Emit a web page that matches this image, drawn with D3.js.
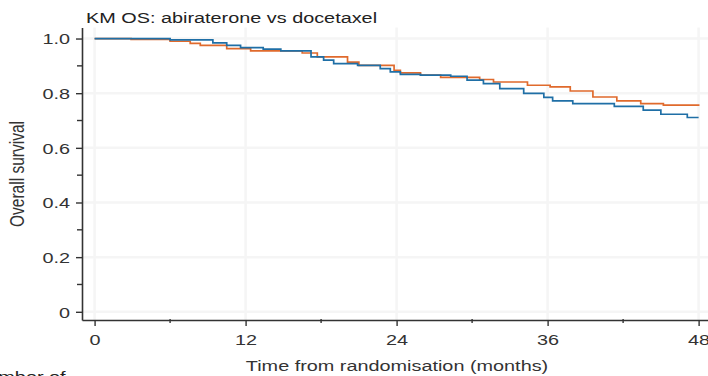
<!DOCTYPE html>
<html>
<head>
<meta charset="utf-8">
<script src="https://cdn.jsdelivr.net/npm/d3@7"></script>
<style>
  html, body { margin: 0; padding: 0; background: #fff; overflow: hidden; }
  svg { display: block; }
  text { font-family: "Liberation Sans", Arial, Helvetica, sans-serif; }
</style>
</head>
<body>
<svg id="chart" width="708" height="376"></svg>
<script>
// Kaplan–Meier overall survival estimates (time in months, survival proportion)
const abiTimes = [0, 2.9, 6.0, 7.6, 8.4, 10.5, 12.4, 16.5, 17.7, 20.1, 21.0, 23.8, 24.3, 25.9, 27.5, 30.6, 31.7, 34.4, 36.2, 37.8, 39.6, 41.5, 43.4, 45.2, 48];
const abiSurv  = [1.0, 0.997, 0.990, 0.982, 0.975, 0.963, 0.955, 0.947, 0.933, 0.914, 0.902, 0.884, 0.874, 0.866, 0.858, 0.850, 0.841, 0.829, 0.823, 0.808, 0.786, 0.772, 0.762, 0.756, 0.753];

const docTimes = [0, 6.0, 9.4, 10.5, 11.6, 13.4, 14.8, 17.2, 18.2, 19.0, 20.9, 22.7, 23.5, 24.3, 25.9, 28.3, 29.6, 30.9, 32.2, 34.1, 35.7, 36.4, 38.0, 41.3, 43.6, 45.0, 47.1, 48];
const docSurv  = [1.0, 0.995, 0.984, 0.975, 0.967, 0.961, 0.955, 0.933, 0.921, 0.908, 0.902, 0.890, 0.878, 0.869, 0.866, 0.862, 0.848, 0.835, 0.817, 0.799, 0.785, 0.772, 0.762, 0.752, 0.738, 0.723, 0.711, 0.711];

const xTicks = [0, 12, 24, 36, 48];
const xMinorTicks = [6, 18, 30, 42];
const yTicks = [0, 0.2, 0.4, 0.6, 0.8, 1.0];
const yMinorTicks = [0.1, 0.3, 0.5, 0.7, 0.9];

const titleText = "KM OS: abiraterone vs docetaxel";
const xLabel = "Time from randomisation (months)";
const yLabel = "Overall survival";
const riskLabel = "Number of";

// Text in this figure is set wide; glyphs are stretched horizontally.
const SX = 1.28;
const FS = 15.5;

const svg = d3.select("#chart");

const x = d3.scaleLinear().domain([-1, 49]).range([82, 711.2]);
const y = d3.scaleLinear().domain([-0.03, 1.04]).range([320, 27.6]);

// Faint grid
const grid = svg.append("g");
grid.selectAll("line.gx").data(xTicks).join("line")
  .attr("x1", d => x(d)).attr("x2", d => x(d))
  .attr("y1", y(1.04)).attr("y2", y(-0.03))
  .attr("stroke", "#f5f5f5").attr("stroke-width", 2.5);
grid.selectAll("line.gy").data(yTicks).join("line")
  .attr("x1", x(-1)).attr("x2", 708)
  .attr("y1", d => y(d)).attr("y2", d => y(d))
  .attr("stroke", "#f5f5f5").attr("stroke-width", 2.5);

// Survival curves
const line = d3.line().x(d => x(d[0])).y(d => y(d[1])).curve(d3.curveStepAfter);
const abiData = abiTimes.map((t, i) => [t, abiSurv[i]]);
const docData = docTimes.map((t, i) => [t, docSurv[i]]);

svg.append("path").datum(abiData)
  .attr("d", line).attr("fill", "none")
  .attr("stroke", "#e06a2c").attr("stroke-width", 1.7);
svg.append("path").datum(docData)
  .attr("d", line).attr("fill", "none")
  .attr("stroke", "#1f6fa6").attr("stroke-width", 1.7);

// X axis
const xAxis = svg.append("g").attr("transform", "translate(0,320)")
  .call(d3.axisBottom(x).tickValues(xTicks).tickFormat(d3.format("d")).tickSize(6).tickSizeOuter(0));
xAxis.append("g").selectAll("line").data(xMinorTicks).join("line")
  .attr("x1", d => x(d)).attr("x2", d => x(d)).attr("y1", -1).attr("y2", 3)
  .attr("stroke", "#333").attr("stroke-width", 1.4);

// Y axis
const yAxis = svg.append("g").attr("transform", "translate(82,0)")
  .call(d3.axisLeft(y).tickValues(yTicks)
    .tickFormat(d => d === 0 ? "0" : d3.format(".1f")(d)).tickSize(6).tickSizeOuter(0));
yAxis.append("g").selectAll("line").data(yMinorTicks).join("line")
  .attr("x1", -5).attr("x2", 0).attr("y1", d => y(d)).attr("y2", d => y(d))
  .attr("stroke", "#333").attr("stroke-width", 1.4);

[xAxis, yAxis].forEach(a => {
  a.select(".domain").attr("stroke", "#333").attr("stroke-width", 1.6);
  a.selectAll(".tick line").attr("stroke", "#333").attr("stroke-width", 1.4);
  a.selectAll(".tick text").attr("fill", "#333").attr("font-size", FS)
    .attr("font-family", "Liberation Sans, Arial, sans-serif");
});
xAxis.selectAll(".tick text").attr("y", 25).attr("dy", 0).attr("x", 0)
  .attr("transform", `scale(${SX},1)`);
yAxis.selectAll(".tick text").attr("x", -12 / SX).attr("dy", "0.34em")
  .attr("transform", `scale(${SX},1)`);

// Title and axis labels
function stretchedText(tx, ty, str, opts = {}) {
  const t = svg.append("text")
    .attr("transform", `translate(${tx},${ty}) scale(${SX},1)` + (opts.rotate ? ` rotate(${opts.rotate})` : ""))
    .attr("font-size", FS)
    .attr("fill", opts.fill || "#222")
    .attr("text-anchor", opts.anchor || "start")
    .text(str);
  if (opts.weight) t.attr("font-weight", opts.weight);
  return t;
}

stretchedText(86, 22.5, titleText, { fill: "#222" });
stretchedText(397, 371, xLabel, { anchor: "middle", fill: "#333" });
stretchedText(24, 174, yLabel, { anchor: "middle", rotate: -90, fill: "#333" });
stretchedText(-27, 382, riskLabel, { fill: "#222" });
</script>
</body>
</html>
